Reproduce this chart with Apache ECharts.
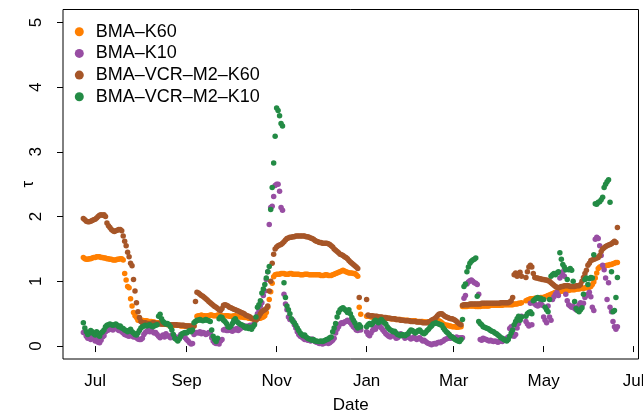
<!DOCTYPE html>
<html>
<head>
<meta charset="utf-8">
<title>Kendall tau by date</title>
<script src="https://cdn.jsdelivr.net/npm/echarts@6/dist/echarts.min.js"></script>
<style>
  html, body { margin: 0; padding: 0; background: #ffffff; }
  #chart { width: 643px; height: 415px; }
</style>
</head>
<body>
<div id="chart"></div>
<script>
// First observation: 23 June 2013, one value per calendar day (null = no value that day).
const firstDay = [2013, 5, 23];

const seriesNames = ['BMA\u2013K60', 'BMA\u2013K10', 'BMA\u2013VCR\u2013M2\u2013K60', 'BMA\u2013VCR\u2013M2\u2013K10'];

// BMA-K60
const bmaK60 = [
  1.37,1.35,1.34,1.34,1.35,1.35,1.36,1.37,
  1.37,1.38,1.38,1.38,1.37,1.37,1.36,1.36,1.35,1.35,
  1.34,1.34,1.33,1.33,1.33,1.34,1.34,1.35,1.35,1.33,
  1.12,1.02,0.92,0.90,0.73,0.62,0.52,0.47,0.44,0.40,
  0.40,0.40,0.40,0.39,0.39,0.39,0.38,0.38,0.38,0.37,
  0.37,0.36,0.36,0.36,0.35,0.35,0.34,0.34,0.34,0.33,
  0.33,0.33,0.33,0.32,0.32,0.32,0.32,0.32,0.31,0.31,
  0.31,0.31,0.31,0.31,0.30,0.30,0.30,0.31,0.38,0.46,
  0.47,0.47,0.48,0.47,0.47,0.46,0.47,0.47,0.48,0.48,
  0.47,0.47,0.47,0.48,0.48,0.47,0.47,0.46,0.47,0.47,
  0.47,0.46,0.46,0.46,0.47,0.47,0.46,0.46,0.45,0.45,
  0.45,0.44,0.44,0.44,0.43,0.43,0.42,0.42,0.42,0.42,
  0.42,0.43,0.43,0.44,0.45,0.47,0.52,0.60,0.72,0.84,
  0.97,1.07,1.10,1.11,1.11,1.11,1.12,1.12,1.12,1.11,
  1.11,1.11,1.12,1.12,1.11,1.11,1.11,1.11,1.11,1.10,
  1.10,1.10,1.11,1.11,1.11,1.10,1.10,1.10,1.10,1.10,
  1.10,1.10,1.10,1.09,1.09,1.09,1.10,1.10,1.09,1.09,
  1.09,1.10,1.11,1.12,1.13,1.14,1.15,1.16,1.17,1.16,
  1.15,1.14,1.13,1.13,1.13,1.12,1.12,1.10,1.08,0.60,
  0.49,null,null,null,0.46,0.46,0.46,0.45,0.45,0.45,
  0.45,0.44,0.44,0.44,0.44,0.44,0.43,0.43,0.43,0.43,
  0.42,0.42,0.42,0.42,0.41,0.41,0.41,0.41,0.40,0.40,
  0.40,0.40,0.40,0.39,0.39,0.39,0.39,0.39,0.38,0.38,
  0.38,0.38,0.38,0.37,0.37,0.37,0.37,0.36,0.36,0.36,
  0.36,0.37,0.38,0.39,0.38,0.36,0.34,0.33,0.32,0.32,
  0.31,0.31,0.30,0.30,0.30,0.29,0.29,0.30,0.30,0.61,
  0.61,0.61,0.61,0.62,0.62,0.62,0.62,0.62,0.61,0.61,
  0.61,0.61,0.62,0.62,0.62,0.62,0.62,0.62,0.63,0.63,
  0.63,0.63,0.63,0.63,0.63,0.63,0.63,0.64,0.64,0.64,
  0.64,0.64,0.64,0.64,0.65,0.65,0.65,0.66,0.66,0.67,
  null,null,0.70,0.71,0.72,0.73,0.73,0.73,0.74,0.74,
  0.74,0.74,0.75,0.75,0.75,0.76,0.77,0.78,0.79,0.80,
  0.81,0.82,0.83,0.83,0.84,0.84,0.85,0.85,0.85,0.86,
  0.86,0.86,0.87,0.87,0.87,0.87,0.88,0.88,0.88,0.89,
  0.89,0.89,0.90,0.90,0.90,0.91,0.92,0.95,0.99,1.05,
  1.13,1.20,1.22,1.23,1.23,1.24,1.24,1.25,1.25,1.26,
  1.26,1.27,1.28,1.29,1.29
];

// BMA-K10
const bmaK10 = [
  0.21,0.20,0.15,0.12,0.16,0.10,0.14,0.12,
  0.08,0.12,0.06,0.05,0.09,0.14,0.16,0.22,0.24,0.25,
  0.27,0.26,0.25,0.27,0.28,0.26,0.24,0.25,0.22,0.20,
  0.18,0.17,0.16,0.15,0.17,0.16,0.14,0.15,0.13,0.11,
  0.10,0.10,0.12,0.18,0.21,0.23,0.24,0.22,0.25,0.22,
  0.20,0.21,0.18,0.15,0.13,0.15,0.17,0.14,0.19,0.16,
  0.15,0.13,0.17,0.16,0.12,0.14,0.11,0.13,0.18,0.16,
  0.15,0.13,0.10,0.08,0.05,0.03,0.04,0.18,0.20,0.21,
  0.20,0.22,0.19,0.21,0.20,0.18,0.19,0.21,0.20,0.13,
  0.08,0.05,0.04,0.06,0.03,0.08,0.10,0.25,0.26,0.24,
  0.24,0.25,0.24,0.23,0.26,0.25,0.27,0.24,0.26,0.28,
  0.29,0.30,0.31,0.29,0.31,0.32,0.30,0.33,0.35,0.42,
  0.50,0.56,0.62,0.67,0.78,0.85,1.03,1.15,1.88,2.14,
  2.16,2.31,2.48,2.50,2.50,2.39,2.14,2.10,0.80,0.65,
  0.56,0.45,0.41,0.41,0.40,0.33,0.28,0.22,0.18,0.15,
  0.14,0.12,0.10,0.11,0.09,0.10,0.08,0.11,0.09,0.07,
  0.06,0.05,0.04,0.05,0.03,0.04,0.05,0.06,0.04,0.05,
  0.07,0.09,0.12,0.20,0.26,0.30,0.34,0.36,0.35,0.37,
  0.38,0.40,0.38,0.36,0.33,0.30,0.28,0.25,0.24,0.27,
  0.25,null,null,null,0.22,0.18,0.16,0.20,0.24,0.28,
  0.26,0.30,0.32,0.31,0.28,0.25,0.22,0.19,0.17,0.15,
  0.14,0.16,0.18,0.15,0.12,0.13,0.16,0.19,0.17,0.15,
  0.12,0.14,0.16,0.13,0.11,0.12,0.14,0.12,0.10,0.12,
  0.13,0.10,0.08,0.09,0.07,0.05,0.04,0.03,0.02,0.03,
  0.04,0.03,0.05,0.06,0.05,0.07,0.08,0.10,0.11,0.12,
  0.13,0.12,0.14,0.13,0.12,0.14,0.13,0.12,0.13,0.13,
  0.74,0.78,0.96,0.99,1.01,1.02,1.00,0.98,0.97,0.95,
  0.80,0.10,0.09,0.12,0.11,0.10,0.09,0.08,0.09,0.08,
  0.07,0.08,0.07,0.06,0.07,0.08,0.07,0.09,0.10,0.12,
  0.14,0.27,0.30,0.16,0.15,0.18,0.28,0.35,0.41,0.46,
  null,null,0.38,0.34,0.31,0.66,0.33,0.68,0.65,0.63,
  0.62,0.64,0.66,0.63,0.45,0.40,0.36,0.62,0.45,0.40,
  0.72,0.76,0.80,0.83,0.78,1.05,1.12,1.15,1.08,0.80,
  0.70,0.64,0.62,0.60,0.62,0.58,0.56,0.60,0.64,0.67,
  0.63,0.66,0.75,0.78,0.80,0.83,0.76,0.60,0.55,1.65,
  1.68,1.66,1.55,1.40,1.25,1.18,1.05,0.72,0.98,0.60,
  0.53,0.38,0.30,0.26,0.30
];

// BMA-VCR-M2-K60
const vcrK60 = [
  1.97,1.95,1.93,1.92,1.92,1.93,1.94,1.95,
  1.96,1.98,2.00,2.02,2.03,2.02,2.03,2.00,1.90,1.86,
  1.83,1.80,1.78,1.77,1.78,1.79,1.80,1.80,1.78,1.70,
  1.62,1.55,1.45,1.38,1.28,1.24,1.03,0.85,0.67,0.53,
  0.44,0.38,0.36,0.36,0.36,0.35,0.35,0.35,0.35,0.36,
  0.36,0.35,0.35,0.35,0.34,0.34,0.34,0.34,0.34,0.34,
  0.33,0.33,0.33,0.33,0.33,0.33,0.32,0.32,0.32,0.32,
  0.32,0.31,0.31,0.31,0.31,0.31,0.31,0.31,0.69,0.83,
  0.82,0.80,0.78,0.77,0.75,0.73,0.71,0.69,0.67,0.65,
  0.63,0.61,0.60,0.58,0.56,0.55,0.58,0.63,0.64,0.63,
  0.62,0.60,0.59,0.58,0.57,0.56,0.55,0.54,0.53,0.52,
  0.51,0.50,0.48,0.47,0.46,0.45,0.43,0.42,0.41,0.40,
  0.42,0.46,0.50,0.53,0.55,0.56,0.58,0.62,0.85,1.00,
  1.28,1.42,1.50,1.53,1.55,1.56,1.57,1.59,1.61,1.64,
  1.66,1.67,1.68,1.68,1.69,1.69,1.70,1.70,1.70,1.70,
  1.70,1.70,1.70,1.69,1.69,1.68,1.67,1.66,1.65,1.63,
  1.62,1.61,1.60,1.60,1.59,1.59,1.59,1.59,1.58,1.57,
  1.55,1.53,1.50,1.48,1.46,1.44,1.42,1.41,1.40,1.38,
  1.37,1.35,1.32,1.30,1.28,1.26,1.24,1.22,1.20,0.75,
  null,null,null,null,0.72,0.48,0.47,0.47,0.47,0.46,
  0.46,0.46,0.45,0.45,0.45,0.44,0.44,0.44,0.43,0.43,
  0.43,0.42,0.42,0.42,0.41,0.41,0.41,0.40,0.40,0.40,
  0.39,0.39,0.39,0.39,0.38,0.38,0.38,0.38,0.37,0.37,
  0.37,0.37,0.36,0.36,0.36,0.36,0.37,0.38,0.40,0.41,
  0.42,0.44,0.47,0.49,0.50,0.50,0.48,0.46,0.45,0.44,
  0.43,0.42,0.42,0.41,0.40,0.38,0.36,0.34,0.33,0.63,
  0.64,0.64,0.64,0.64,0.65,0.65,0.65,0.65,0.65,0.65,
  0.65,0.65,0.66,0.66,0.66,0.66,0.66,0.66,0.66,0.66,
  0.66,0.66,0.66,0.66,0.66,0.67,0.67,0.67,0.67,0.67,
  0.67,0.68,0.70,0.75,1.10,1.13,1.08,1.12,1.14,1.08,
  null,null,1.06,1.15,1.22,1.25,1.22,1.12,1.06,1.05,
  1.05,1.04,1.04,1.03,1.03,1.02,1.02,1.01,1.00,0.98,
  0.96,0.94,0.92,0.91,0.90,0.91,0.92,0.92,0.93,0.93,
  0.93,0.93,0.92,0.92,0.92,0.92,0.93,0.93,0.93,0.95,
  1.00,1.06,1.12,1.17,1.25,1.28,1.32,1.33,1.34,1.35,
  1.36,1.37,1.40,1.46,1.50,1.52,1.54,1.55,1.56,1.57,
  1.58,1.60,1.62,1.60,1.83
];

// BMA-VCR-M2-K10
const vcrK10 = [
  0.36,0.28,0.22,0.18,0.20,0.24,0.22,0.19,
  0.17,0.22,0.18,0.15,0.20,0.22,0.25,0.30,0.32,0.33,
  0.34,0.33,0.32,0.33,0.34,0.32,0.30,0.31,0.28,0.27,
  0.25,0.24,0.22,0.24,0.26,0.22,0.20,0.18,0.17,0.20,
  0.24,0.28,0.30,0.31,0.32,0.31,0.32,0.33,0.31,0.30,
  0.31,0.32,0.33,0.46,0.49,0.42,0.38,0.36,0.34,0.35,
  0.33,0.30,0.25,0.18,0.12,0.10,0.08,0.11,0.15,0.19,
  0.20,0.21,0.20,0.22,0.24,0.22,0.25,0.36,0.38,0.40,
  0.40,0.41,0.40,0.39,0.40,0.41,0.40,0.39,0.38,0.25,
  0.15,0.10,0.07,0.12,0.42,0.45,0.44,0.40,0.38,0.35,
  0.30,0.29,0.31,0.35,0.40,0.42,0.38,0.36,0.34,0.33,
  0.32,0.30,0.28,0.30,0.27,0.29,0.26,0.30,0.33,0.45,
  0.60,0.64,0.70,0.82,0.88,0.95,1.05,1.15,1.23,2.11,
  2.45,2.83,3.24,3.68,3.64,3.56,3.44,3.40,0.98,0.75,
  0.62,0.56,0.50,0.42,0.38,0.36,0.32,0.28,0.24,0.20,
  0.18,0.16,0.17,0.14,0.12,0.11,0.10,0.09,0.10,0.08,
  0.08,0.07,0.07,0.08,0.07,0.08,0.09,0.10,0.11,0.13,
  0.14,0.22,0.28,0.35,0.45,0.52,0.56,0.58,0.59,0.57,
  0.55,0.52,0.56,0.50,0.44,0.40,0.36,0.31,0.28,0.33,
  0.30,null,null,null,0.30,0.33,0.35,0.33,0.35,0.38,
  0.40,0.38,0.36,0.39,0.41,0.38,0.36,0.34,0.30,0.27,
  0.25,0.24,0.22,0.23,0.20,0.18,0.17,0.16,0.18,0.17,
  0.16,0.18,0.19,0.22,0.25,0.24,0.22,0.20,0.22,0.24,
  0.25,0.22,0.20,0.19,0.21,0.24,0.26,0.29,0.31,0.34,
  0.35,0.36,0.35,0.34,0.33,0.32,0.28,0.25,0.22,0.20,
  0.18,0.15,0.14,0.12,0.10,0.09,0.08,0.07,0.10,0.41,
  0.92,0.96,1.15,1.22,1.28,1.31,1.33,1.34,1.36,0.77,
  0.38,0.35,0.33,0.30,0.29,0.28,0.27,0.26,0.24,0.23,
  0.22,0.20,0.19,0.17,0.15,0.13,0.12,0.10,0.09,0.08,
  0.10,0.15,0.20,0.25,0.33,0.38,0.42,0.46,0.40,0.45,
  null,null,0.46,0.50,0.52,0.53,0.50,0.70,0.72,0.74,
  0.75,0.73,0.74,0.72,0.72,0.60,0.56,0.53,0.72,1.08,
  1.10,1.12,1.10,1.13,1.15,1.44,1.34,1.26,1.22,1.18,
  1.03,1.18,1.20,1.17,1.00,0.69,0.58,0.55,0.53,0.56,
  0.59,0.80,1.03,1.05,0.95,1.04,1.06,1.05,1.41,2.20,
  2.19,2.22,2.23,2.26,2.30,2.45,2.50,2.54,2.57,2.22,
  1.15,0.53,0.55,0.75,1.06
];

// Axis ticks
const xTickDates = [[2013, 6, 1], [2013, 8, 1], [2013, 10, 1], [2014, 0, 1], [2014, 2, 1], [2014, 4, 1], [2014, 6, 1]];
const xTickLabels = ['Jul', 'Sep', 'Nov', 'Jan', 'Mar', 'May', 'Jul'];
const yTicks = [0, 1, 2, 3, 4, 5];

const colors = ['#FF7F00', '#984EA3', '#A65628', '#238B45'];
const DAY = 86400000;
const FONT = '"Liberation Sans", Arial, Helvetica, sans-serif';
const FS = 17;

function toPoints(values) {
  const pts = [];
  values.forEach((v, i) => {
    if (v === null) return;
    const t = new Date(firstDay[0], firstDay[1], firstDay[2] + i).getTime();
    pts.push([t, v]);
  });
  return pts;
}

const xTickValues = xTickDates.map(d => new Date(d[0], d[1], d[2]).getTime());
const jul1 = xTickValues[0];

const chart = echarts.init(document.getElementById('chart'), null, { renderer: 'canvas' });

chart.setOption({
  animation: false,
  backgroundColor: '#ffffff',
  textStyle: { fontFamily: FONT },
  grid: {
    left: 63, right: 4.5, top: 9.5, bottom: 56,
    outerBoundsMode: 'none',
    containLabel: false,
    show: true, borderColor: '#000000', borderWidth: 1, backgroundColor: 'transparent'
  },
  legend: {
    orient: 'vertical',
    left: 74.8, top: 22.7,
    padding: 0,
    itemGap: 3.7,
    itemWidth: 9, itemHeight: 9,
    icon: 'circle',
    selectedMode: false,
    textStyle: { fontFamily: FONT, fontSize: 18, color: '#000000', lineHeight: 18, padding: [0, 0, 0, 7] },
    data: seriesNames
  },
  xAxis: {
    // dates are plotted as millisecond timestamps on a linear scale
    type: 'value',
    min: jul1 - 21.8 * DAY,
    max: jul1 + 368.3 * DAY,
    name: 'Date',
    nameLocation: 'middle',
    nameGap: 38,
    nameMoveOverlap: false,
    nameTextStyle: { fontFamily: FONT, fontSize: FS, color: '#000000' },
    axisLine: { show: false },
    axisTick: { show: true, inside: false, length: 6, lineStyle: { color: '#000000', width: 1 }, customValues: xTickValues },
    axisLabel: {
      show: true, margin: 14, fontFamily: FONT, fontSize: FS, color: '#000000',
      customValues: xTickValues,
      formatter: function (val) {
        const k = xTickValues.findIndex(t => Math.abs(t - val) < DAY / 2);
        return k >= 0 ? xTickLabels[k] : '';
      }
    },
    splitLine: { show: false }
  },
  yAxis: {
    type: 'value',
    min: -0.2,
    max: 5.2,
    name: '\u03C4',
    nameLocation: 'middle',
    nameRotate: 90,
    nameGap: 26,
    nameMoveOverlap: false,
    nameTextStyle: { fontFamily: FONT, fontSize: FS, color: '#000000' },
    axisLine: { show: false },
    axisTick: { show: true, inside: false, length: 6, lineStyle: { color: '#000000', width: 1 }, customValues: yTicks },
    axisLabel: {
      show: true, rotate: 90, margin: 18, fontFamily: FONT, fontSize: FS, color: '#000000',
      customValues: yTicks
    },
    splitLine: { show: false }
  },
  series: [bmaK60, bmaK10, vcrK60, vcrK10].map((vals, k) => ({
    name: seriesNames[k],
    type: 'scatter',
    symbol: 'circle',
    symbolSize: 5.5,
    itemStyle: { color: colors[k], opacity: 1 },
    emphasis: { disabled: true },
    silent: true,
    data: toPoints(vals)
  }))
});
</script>
</body>
</html>
